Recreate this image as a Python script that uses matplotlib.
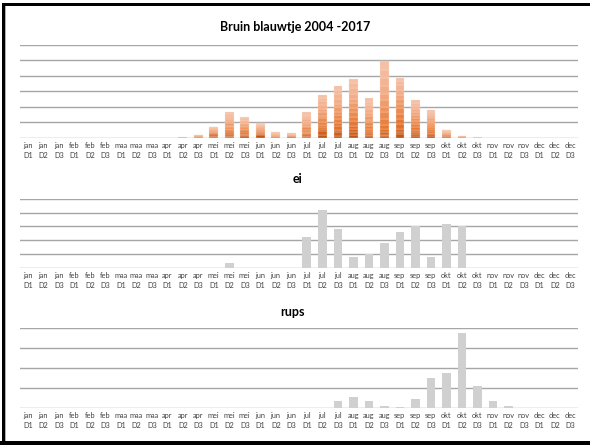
import matplotlib.pyplot as plt
from matplotlib.colors import LinearSegmentedColormap
from matplotlib.patches import Rectangle
import numpy as np

plt.rcParams['font.family'] = ['Lato', 'DejaVu Sans']

maanden = ['jan', 'feb', 'maa', 'apr', 'mei', 'jun', 'jul', 'aug', 'sep', 'okt', 'nov', 'dec']
decaden = ['D1', 'D2', 'D3']
labels = [m + '\n' + d for m in maanden for d in decaden]

# vlinders per jaar, decade apr D2 t/m okt D3 (index 10..29)
start = 10
jaren = list(range(2004, 2018))
y2004 = [0, 2, 3, 4, 6, 10, 1, 3, 4, 10, 8, 10, 6, 5, 12, 8, 6, 3, 1, 0]
y2005 = [0, 1, 2, 3, 3, 4, 2, 2, 3, 12, 10, 8, 4, 6, 8, 5, 6, 2, 0, 0]
y2006 = [0, 1, 8, 7, 4, 3, 1, 1, 5, 7, 9, 12, 5, 8, 10, 6, 5, 2, 1, 0]
y2007 = [0, 0, 2, 5, 5, 2, 1, 0, 4, 5, 12, 10, 6, 10, 14, 8, 5, 2, 0, 0]
y2008 = [0, 2, 3, 6, 8, 5, 2, 2, 4, 9, 10, 14, 8, 12, 18, 10, 7, 3, 1, 0]
y2009 = [0, 0, 2, 4, 3, 2, 1, 1, 6, 8, 12, 15, 10, 20, 16, 8, 6, 1, 0, 0]
y2010 = [1, 1, 3, 6, 5, 3, 1, 1, 8, 12, 14, 16, 12, 22, 20, 10, 8, 2, 1, 0]
y2011 = [0, 0, 2, 5, 4, 2, 1, 1, 5, 9, 10, 12, 8, 18, 12, 9, 5, 1, 0, 0]
y2012 = [0, 1, 3, 8, 6, 4, 2, 1, 7, 11, 14, 16, 11, 20, 15, 10, 8, 2, 1, 0]
y2013 = [0, 0, 2, 6, 5, 3, 2, 1, 6, 10, 12, 13, 10, 22, 14, 9, 7, 2, 0, 1]
y2014 = [1, 1, 2, 7, 5, 3, 1, 1, 8, 12, 16, 17, 13, 25, 16, 11, 8, 2, 1, 0]
y2015 = [0, 0, 2, 8, 5, 2, 2, 1, 8, 13, 14, 17, 12, 24, 15, 10, 8, 2, 0, 0]
y2016 = [0, 1, 2, 8, 5, 2, 2, 1, 7, 11, 14, 16, 12, 26, 13, 10, 6, 2, 1, 1]
y2017 = [0, 0, 1, 8, 4, 2, 1, 0, 9, 11, 14, 14, 13, 30, 12, 10, 5, 1, 0, 0]
per_jaar = [y2004, y2005, y2006, y2007, y2008, y2009, y2010,
            y2011, y2012, y2013, y2014, y2015, y2016, y2017]

# eieren en rupsen per decade
ei = [0] * 13 + [1.6, 0, 0, 0, 0, 11, 21, 14, 4, 5, 9, 13, 15, 4, 16, 15] + [0] * 7
rups = [0] * 20 + [1.7, 2.7, 1.7, 0.4, 0.15, 2.3, 7.5, 8.8, 18.8, 5.5, 1.7, 0.4] + [0] * 4

x = np.arange(len(labels))
breedte = 0.55
grid_kleur = '#a6a6a6'
tekst_kleur = '#404040'
grijs = '#d0d0d0'

fig = plt.figure(figsize=(5.9, 4.45), dpi=100)


def opmaak(ax, ymax, stap):
    ax.set_xlim(-0.5, len(labels) - 0.5)
    ax.set_ylim(0, ymax)
    for v in np.arange(0, ymax + 0.01, stap):
        ax.axhline(v, color=grid_kleur, lw=1.0, zorder=0)
    for s in ax.spines.values():
        s.set_visible(False)
    ax.set_yticks([])
    ax.set_xticks(x)
    ax.set_xticklabels(labels, fontsize=5.3, color=tekst_kleur, linespacing=1.45)
    ax.tick_params(axis='x', length=0, pad=3)


# Bruin blauwtje, gestapeld per jaar
ax1 = fig.add_axes([0.0339, 0.6899, 0.9458, 0.209])
kleuren = LinearSegmentedColormap.from_list(
    'oranje', ['#c25518', '#e3722c', '#ed8f55', '#f2ac88', '#f5c0a6'])
onder = np.zeros(len(labels))
for i, rij in enumerate(per_jaar):
    waarden = np.zeros(len(labels))
    waarden[start:start + len(rij)] = rij
    nz = waarden > 0
    ax1.bar(x[nz], waarden[nz], breedte, bottom=onder[nz],
            color=kleuren(i / (len(jaren) - 1)),
            edgecolor='#fbe3d6', linewidth=0.2, zorder=2, label=str(jaren[i]))
    onder += waarden
opmaak(ax1, 300, 50)

# ei
ax2 = fig.add_axes([0.0339, 0.3984, 0.9458, 0.1544])
ax2.bar(x, ei, breedte, color=grijs, zorder=2)
opmaak(ax2, 25, 5)

# rups
ax3 = fig.add_axes([0.0339, 0.0838, 0.9458, 0.1784])
ax3.bar(x, rups, breedte, color=grijs, zorder=2)
opmaak(ax3, 20, 5)

fig.text(0.5, 0.939, 'Bruin blauwtje 2004 -2017', ha='center', va='center',
         fontsize=9, fontweight='bold', color='black')
fig.text(0.505, 0.598, 'ei', ha='center', va='center',
         fontsize=9, fontweight='bold', color='black')
fig.text(0.495, 0.300, 'rups', ha='center', va='center',
         fontsize=9, fontweight='bold', color='black')

# zwarte kader (boven, links, onder)
W, H = 590, 445
fig.add_artist(Rectangle((2 / W, 1 - 6 / H), 1, 3 / H, transform=fig.transFigure,
                         color='black', lw=0))
fig.add_artist(Rectangle((2 / W, 0), 3.3 / W, 1 - 3 / H, transform=fig.transFigure,
                         color='black', lw=0))
fig.add_artist(Rectangle((5.3 / W, 0), 1 / W, 1 - 6 / H, transform=fig.transFigure,
                         color='#b0b0b0', lw=0))
fig.add_artist(Rectangle((0, 0), 1, 4 / H, transform=fig.transFigure,
                         color='black', lw=0))

fig.savefig('out.png', dpi=100)
